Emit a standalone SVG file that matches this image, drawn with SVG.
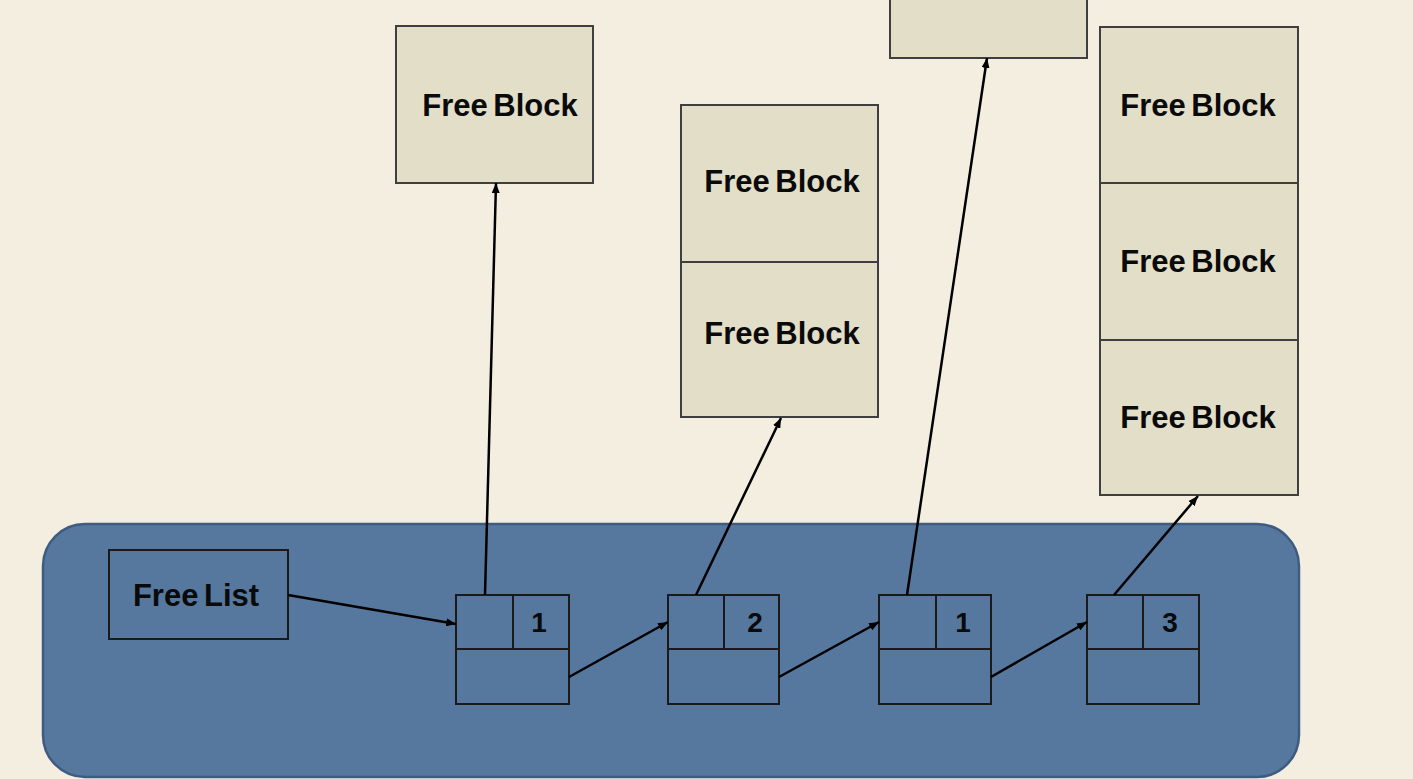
<svg xmlns="http://www.w3.org/2000/svg" width="1413" height="779" viewBox="0 0 1413 779">
<style>
.blk{fill:#E3DEC7;stroke:#3F3F3F;stroke-width:2}
.cell{fill:none;stroke:#1A1A1A;stroke-width:2}
.t{font-family:"Liberation Sans",Arial,sans-serif;font-weight:bold;font-size:31px;fill:#0A0A0A;text-anchor:middle;dominant-baseline:central;word-spacing:-3px}
.n{font-family:"Liberation Sans",Arial,sans-serif;font-weight:bold;font-size:28px;fill:#0A0A0A;text-anchor:middle;dominant-baseline:central}
.c{stroke:#000;stroke-width:2.5;fill:none;marker-end:url(#ah)}
</style>
<defs>
<marker id="ah" viewBox="0 0 10 8" refX="10" refY="4" markerWidth="10" markerHeight="8" markerUnits="userSpaceOnUse" orient="auto">
<path d="M0,0 L10,4 L0,8 z" fill="#000"/>
</marker>
</defs>
<rect x="0" y="0" width="1413" height="779" fill="#F3EEE0"/>
<g id="panel">
<rect x="43" y="524" width="1256" height="253" rx="42" ry="42" fill="#56789F" stroke="#3E5B80" stroke-width="2.5"/>
</g>
<g id="block1">
<rect class="blk" x="396" y="26" width="197" height="157"/>
<text class="t" x="500" y="105">Free Block</text>
</g>
<g id="block2">
<rect class="blk" x="681" y="105" width="197" height="312"/>
<line x1="681" y1="262" x2="878" y2="262" stroke="#3F3F3F" stroke-width="2"/>
<text class="t" x="782" y="181">Free Block</text>
<text class="t" x="782" y="333">Free Block</text>
</g>
<g id="block3">
<rect class="blk" x="890" y="-10" width="197" height="68"/>
</g>
<g id="block4">
<rect class="blk" x="1100" y="27" width="198" height="468"/>
<line x1="1100" y1="183" x2="1298" y2="183" stroke="#3F3F3F" stroke-width="2"/>
<line x1="1100" y1="340" x2="1298" y2="340" stroke="#3F3F3F" stroke-width="2"/>
<text class="t" x="1198" y="105">Free Block</text>
<text class="t" x="1198" y="261">Free Block</text>
<text class="t" x="1198" y="417">Free Block</text>
</g>
<g id="freelist">
<rect class="cell" x="109" y="550" width="179" height="89"/>
<text class="t" x="196" y="595">Free List</text>
</g>
<g id="node1">
<rect class="cell" x="456" y="595" width="113" height="109"/>
<line class="cell" x1="456" y1="649" x2="569" y2="649"/>
<line class="cell" x1="513" y1="595" x2="513" y2="649"/>
<text class="n" x="539" y="622">1</text>
</g>
<g id="node2">
<rect class="cell" x="668" y="595" width="111" height="109"/>
<line class="cell" x1="668" y1="649" x2="779" y2="649"/>
<line class="cell" x1="724" y1="595" x2="724" y2="649"/>
<text class="n" x="755" y="622">2</text>
</g>
<g id="node3">
<rect class="cell" x="879" y="595" width="112" height="109"/>
<line class="cell" x1="879" y1="649" x2="991" y2="649"/>
<line class="cell" x1="936" y1="595" x2="936" y2="649"/>
<text class="n" x="963" y="622">1</text>
</g>
<g id="node4">
<rect class="cell" x="1087" y="595" width="112" height="109"/>
<line class="cell" x1="1087" y1="649" x2="1199" y2="649"/>
<line class="cell" x1="1143" y1="595" x2="1143" y2="649"/>
<text class="n" x="1170" y="622">3</text>
</g>
<g id="connectors">
<line class="c" x1="288" y1="595" x2="456" y2="624"/>
<line class="c" x1="485" y1="595" x2="496" y2="183"/>
<line class="c" x1="569" y1="677" x2="668" y2="622"/>
<line class="c" x1="696" y1="595" x2="781" y2="418"/>
<line class="c" x1="779" y1="677" x2="879" y2="622"/>
<line class="c" x1="907" y1="595" x2="987" y2="58"/>
<line class="c" x1="991" y1="677" x2="1087" y2="622"/>
<line class="c" x1="1114" y1="595" x2="1198" y2="496"/>
</g>
</svg>
